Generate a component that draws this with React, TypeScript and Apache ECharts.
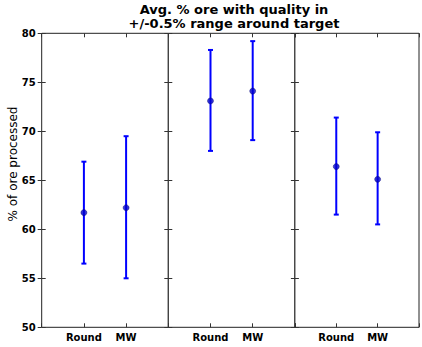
import React, { useEffect, useRef } from "react";
import * as echarts from "echarts";

const categories = ["Round", "MW"];
const means = [
  [61.7, 62.2],
  [73.1, 74.1],
  [66.4, 65.1],
];
const lowers = [
  [56.5, 55.0],
  [68.0, 69.1],
  [61.5, 60.5],
];
const uppers = [
  [66.9, 69.5],
  [78.3, 79.2],
  [71.4, 69.9],
];
const yTicks = { min: 50, max: 80, interval: 5 };
const titleLines = ["Avg. % ore with quality in", "+/-0.5% range around target"];
const yLabel = "% of ore processed";

const FONT = "DejaVu Sans";
const BLUE = "#0000ff";

export default function App() {
  const ref = useRef<HTMLDivElement>(null);
  useEffect(() => {
    if (!ref.current) return;
    const chart = echarts.init(ref.current, undefined, { renderer: "svg" });
    const left0 = 41.7;
    const top0 = 33.3;
    const w = 126.6;
    const h = 294;
    const grids: any[] = [];
    const xAxes: any[] = [];
    const yAxes: any[] = [];
    const series: any[] = [];
    for (let i = 0; i < means.length; i++) {
      grids.push({
        left: left0 + i * w,
        top: top0,
        width: w,
        height: h,
        show: true,
        borderColor: "#222",
        borderWidth: 1,
        backgroundColor: "#fff",
      });
      const xBase = {
        type: "value",
        gridIndex: i,
        min: 0,
        max: 3,
        interval: 1,
        splitLine: { show: false },
        axisLine: { show: false },
        axisTick: { show: true, inside: true, length: 4, lineStyle: { color: "#333" } },
      };
      xAxes.push({
        ...xBase,
        position: "bottom",
        axisLabel: {
          show: true,
          margin: 5,
          fontFamily: FONT,
          fontWeight: "bold",
          fontSize: 10,
          color: "#000",
          formatter: (v: number) => categories[v - 1] ?? "",
        },
      });
      xAxes.push({ ...xBase, position: "top", axisLabel: { show: false } });
      const yBase = {
        type: "value",
        gridIndex: i,
        min: yTicks.min,
        max: yTicks.max,
        interval: yTicks.interval,
        splitLine: { show: false },
        axisLine: { show: false },
        axisTick: { show: true, inside: true, length: 4, lineStyle: { color: "#333" } },
      };
      yAxes.push({
        ...yBase,
        position: "left",
        axisLabel: {
          show: i === 0,
          margin: 6,
          fontFamily: FONT,
          fontWeight: "bold",
          fontSize: 10,
          color: "#000",
        },
      });
      yAxes.push({ ...yBase, position: "right", axisLabel: { show: false } });

      const errData = categories.map((_, j) => [j + 1, lowers[i][j], uppers[i][j]]);
      series.push({
        type: "custom",
        xAxisIndex: 2 * i,
        yAxisIndex: 2 * i,
        data: errData,
        encode: { x: 0, y: [1, 2] },
        renderItem: (params: any, api: any) => {
          const x = api.value(0);
          const lo = api.value(1);
          const hi = api.value(2);
          const t = api.coord([x, hi]);
          const b = api.coord([x, lo]);
          const hw = 2.5;
          const style = { stroke: BLUE, lineWidth: 2 };
          return {
            type: "group",
            children: [
              { type: "line", shape: { x1: t[0], y1: t[1], x2: b[0], y2: b[1] }, style },
              { type: "line", shape: { x1: t[0] - hw, y1: t[1], x2: t[0] + hw, y2: t[1] }, style },
              { type: "line", shape: { x1: b[0] - hw, y1: b[1], x2: b[0] + hw, y2: b[1] }, style },
            ],
          };
        },
      });
      series.push({
        type: "scatter",
        xAxisIndex: 2 * i,
        yAxisIndex: 2 * i,
        symbol: "circle",
        symbolSize: 6,
        itemStyle: { color: "#0000cc", borderColor: "#000066", borderWidth: 0.5 },
        data: categories.map((_, j) => [j + 1, means[i][j]]),
      });
    }

    chart.setOption({
      animation: false,
      backgroundColor: "#fff",
      grid: grids,
      xAxis: xAxes,
      yAxis: yAxes,
      series,
      graphic: [
        {
          type: "text",
          x: 234,
          y: 2,
          style: {
            text: titleLines.join("\n"),
            textAlign: "center",
            textVerticalAlign: "top",
            lineHeight: 14,
            fontFamily: FONT,
            fontWeight: "bold",
            fontSize: 13,
            fill: "#000",
          },
        },
        {
          type: "text",
          x: 12.5,
          y: 164,
          rotation: Math.PI / 2,
          style: {
            text: yLabel,
            textAlign: "center",
            textVerticalAlign: "middle",
            fontFamily: FONT,
            fontSize: 12,
            fill: "#000",
          },
        },
      ],
    });
    return () => chart.dispose();
  }, []);
  return (
    <div
      ref={ref}
      style={{ position: "absolute", left: 0, top: 0, width: 422, height: 347 }}
    />
  );
}
